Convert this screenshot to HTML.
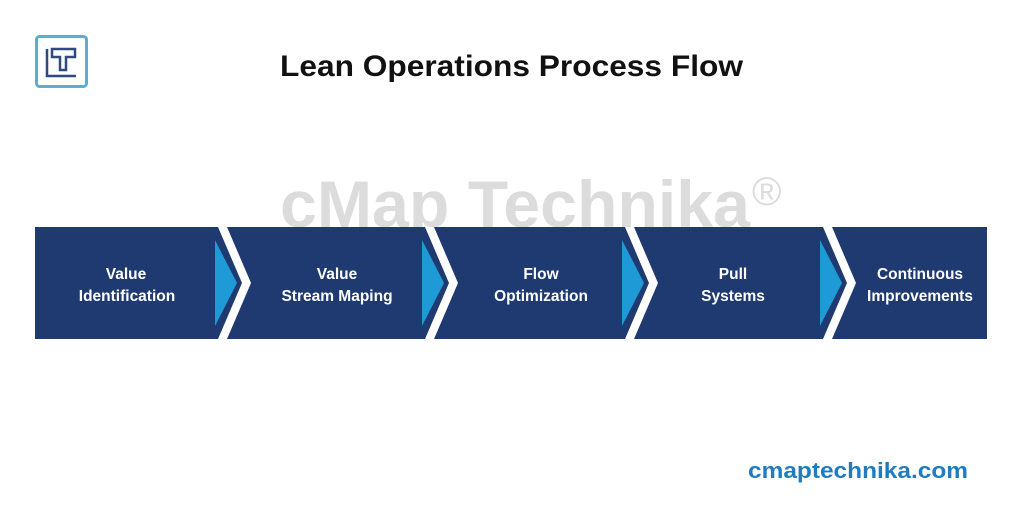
<!DOCTYPE html>
<html><head><meta charset="utf-8"><style>
html,body{margin:0;padding:0;background:#fff;}
svg{display:block;}
</style></head><body>
<svg width="1024" height="526" viewBox="0 0 1024 526" xmlns="http://www.w3.org/2000/svg" font-family="Liberation Sans, sans-serif">
<rect width="1024" height="526" fill="#fff"/>
<!-- logo -->
<rect x="36.5" y="36.5" width="50" height="50" rx="3" fill="none" stroke="#5aaed0" stroke-width="3"/>
<path d="M47 49 V76 H76 M52 49 H75 V57 H66 V70 H60 V57 H52 Z" fill="none" stroke="#2f4a80" stroke-width="2.5"/>
<!-- title -->
<text x="280" y="76" font-size="30" font-weight="bold" fill="#111" textLength="463" lengthAdjust="spacingAndGlyphs">Lean Operations Process Flow</text>
<!-- watermark -->
<text x="280" y="227" font-size="66" font-weight="bold" fill="#dcdcdc" textLength="470" lengthAdjust="spacingAndGlyphs">cMap Technika</text>
<text x="752" y="205" font-size="40" fill="#dcdcdc">®</text>
<!-- chevrons -->
<g fill="#1f3a70">
<polygon points="35,227 218,227 242,283 218,339 35,339"/>
<polygon points="227,227 425,227 449,283 425,339 227,339 251,283"/>
<polygon points="434,227 625,227 649,283 625,339 434,339 458,283"/>
<polygon points="634,227 823,227 847,283 823,339 634,339 658,283"/>
<polygon points="832,227 987,227 987,339 832,339 856,283"/>
</g>
<g fill="#1e9ad6">
<polygon points="215,240 237,283 215,326"/>
<polygon points="422,240 444,283 422,326"/>
<polygon points="622,240 644,283 622,326"/>
<polygon points="820,240 842,283 820,326"/>
</g>
<g fill="#fff" font-size="15.5" font-weight="bold" text-anchor="middle">
<text x="126" y="279">Value</text><text x="127" y="301">Identification</text>
<text x="337" y="279">Value</text><text x="337" y="301">Stream Maping</text>
<text x="541" y="279">Flow</text><text x="541" y="301">Optimization</text>
<text x="733" y="279">Pull</text><text x="733" y="301">Systems</text>
<text x="920" y="279">Continuous</text><text x="920" y="301">Improvements</text>
</g>
<text x="748" y="478" font-size="22" font-weight="bold" fill="#1e7cc0" textLength="220" lengthAdjust="spacingAndGlyphs">cmaptechnika.com</text>
</svg>
</body></html>
